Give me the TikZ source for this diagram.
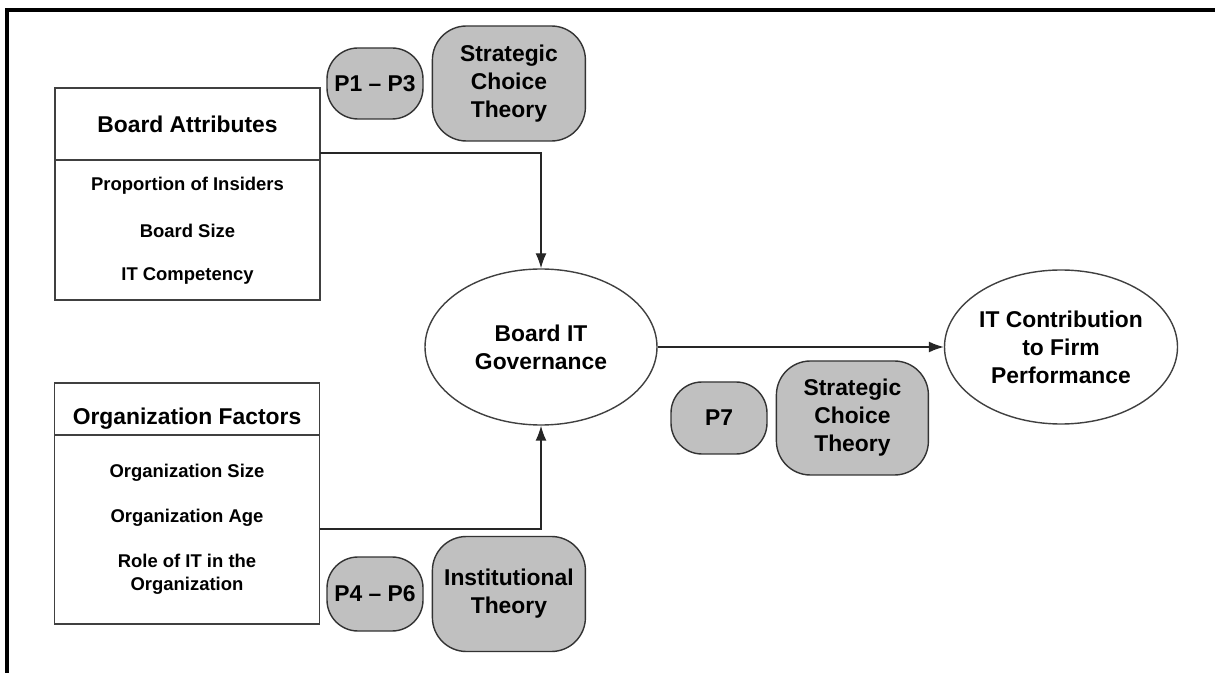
\documentclass[tikz,border=0pt]{standalone}
\usepackage{fontspec}
\setmainfont{Liberation Sans}
\usetikzlibrary{shapes.geometric, positioning, arrows.meta}
\definecolor{cinzateoria}{RGB}{192,192,192}

\tikzset{
  caixa/.style={draw=black!75, line width=0.8pt, minimum width=5.3cm, inner sep=0pt, outer sep=0pt},
  item/.style={font=\fontsize{10.5}{13}\selectfont\bfseries, align=center},
  titulo/.style={font=\fontsize{13}{15.9}\selectfont\bfseries, align=center},
  elipse/.style={ellipse, draw=black!75, line width=0.8pt, minimum width=4.64cm, minimum height=3.12cm, inner sep=0pt, titulo},
  pilula/.style={draw=black!80, line width=0.8pt, fill=cinzateoria, rounded corners=0.62cm, minimum width=1.92cm, minimum height=1.44cm, inner sep=0pt, titulo},
  teoria/.style={pilula, rounded corners=0.68cm, minimum width=3.06cm, minimum height=2.3cm},
  seta/.style={-{Latex[length=3mm,width=2.2mm]}, line width=0.8pt, black!85}
}

\begin{document}
\begin{tikzpicture}
    \useasboundingbox (0,0) rectangle (24.3,-13.46);
    % moldura
    \draw[line width=2pt] (0.14,-13.46) -- (0.14,-0.2) -- (24.3,-0.2);
    % caixa dos atributos do conselho
    \node[caixa, minimum height=1.44cm, titulo] (boardhead) at (3.75,-2.48) {Board Attributes};
    \node[caixa, minimum height=2.8cm, below=0pt of boardhead] (boardbody) {};
    \node[item] (prop) at ([yshift=-0.52cm]boardbody.north) {Proportion of Insiders};
    \node[item] (bsize) at ([yshift=-1.42cm]boardbody.north) {Board Size};
    \node[item] (comp) at ([yshift=-2.32cm]boardbody.north) {IT Competency};
    % caixa dos fatores da organizacao
    \node[caixa, minimum height=1.04cm] (orghead) at (3.74,-8.18) {};
    \node[titulo] (orgtit) at ([yshift=-0.2cm]orghead.center) {Organization Factors};
    \node[caixa, minimum height=3.78cm, below=0pt of orghead] (orgbody) {};
    \node[item] (osize) at ([yshift=-0.76cm]orgbody.north) {Organization Size};
    \node[item] (oage) at ([yshift=-1.66cm]orgbody.north) {Organization Age};
    \node[item] (orole) at ([yshift=-2.79cm]orgbody.north) {Role of IT in the\\Organization};
    % elipses
    \node[elipse] (gov) at (10.82,-6.94) {Board IT\\Governance};
    \node[elipse, minimum width=4.66cm, minimum height=3.08cm] (perf) at (21.22,-6.94) {IT Contribution\\to Firm\\Performance};
    % proposicoes e teorias
    \node[pilula, minimum height=1.42cm] (p13) at (7.5,-1.67) {P1 -- P3};
    \node[teoria, right=0.16cm of p13] (strat1) {Strategic\\Choice\\Theory};
    \node[pilula, minimum height=1.48cm] (p46) at (7.5,-11.88) {P4 -- P6};
    \node[teoria, right=0.16cm of p46] (inst) {Institutional\\Theory};
    \node[pilula] (p7) at (14.38,-8.36) {P7};
    \node[teoria, minimum width=3.04cm, minimum height=2.28cm, right=0.16cm of p7] (strat2) {Strategic\\Choice\\Theory};
    % setas
    \draw[seta] ([yshift=0.14cm]boardhead.south east) -| (gov.north);
    \draw[seta] ([yshift=-1.88cm]orgbody.north east) -| (gov.south);
    \draw[seta] (gov.east) -- (perf.west);
\end{tikzpicture}
\end{document}
